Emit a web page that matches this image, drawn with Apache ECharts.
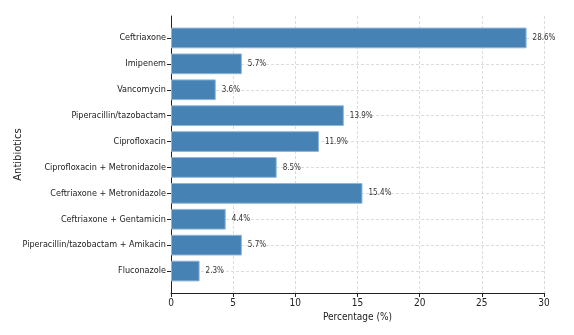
<!DOCTYPE html>
<html>
<head>
    <meta charset="utf-8">
    <title>Antibiotics usage</title>
    <script src="https://cdn.jsdelivr.net/npm/echarts@6/dist/echarts.min.js"></script>
    <style>
        html, body { margin: 0; padding: 0; background: #fff; }
        #chart { width: 574px; height: 335px; }
    </style>
</head>
<body>
<div id="chart"></div>
<script>
    var antibiotics = [
        'Ceftriaxone',
        'Imipenem',
        'Vancomycin',
        'Piperacillin/tazobactam',
        'Ciprofloxacin',
        'Ciprofloxacin + Metronidazole',
        'Ceftriaxone + Metronidazole',
        'Ceftriaxone + Gentamicin',
        'Piperacillin/tazobactam + Amikacin',
        'Fluconazole'
    ];
    var percentages = [28.6, 5.7, 3.6, 13.9, 11.9, 8.5, 15.4, 4.4, 5.7, 2.3];
    var xMin = 0, xMax = 30, xStep = 5;

    var narrow = '"DejaVu Sans Condensed", "DejaVu Sans", sans-serif';
    var gridColor = '#dcdcdc';
    var chart = echarts.init(document.getElementById('chart'));

    var option = {
        animation: false,
        // grid 0: bars, grid 1: frame + x axis, grid 2: horizontal grid lines at bar centres
        grid: [
            {left: 171, right: 30, top: 25, bottom: 51, outerBoundsMode: 'none'},
            {left: 171, right: 30, top: 16, bottom: 42, outerBoundsMode: 'none'},
            {left: 171, right: 30, top: 38, bottom: 64, outerBoundsMode: 'none'}
        ],
        xAxis: [
            {
                gridIndex: 0, type: 'value', min: xMin, max: xMax, interval: xStep,
                show: false
            },
            {
                gridIndex: 1, type: 'value', min: xMin, max: xMax, interval: xStep,
                name: 'Percentage (%)',
                nameLocation: 'middle',
                nameGap: 17,
                nameTextStyle: {fontFamily: narrow, fontSize: 10, color: '#222'},
                axisLine: {show: true, lineStyle: {color: '#222', width: 1}},
                axisTick: {show: true, length: 4, lineStyle: {color: '#222'}},
                axisLabel: {fontFamily: narrow, fontSize: 10, color: '#222', margin: 5},
                splitLine: {show: true, lineStyle: {color: gridColor, type: [3, 2]}}
            },
            {
                gridIndex: 2, type: 'value', min: xMin, max: xMax, show: false
            }
        ],
        yAxis: [
            {
                gridIndex: 0, type: 'category', data: antibiotics, inverse: true,
                axisLine: {show: false},
                axisTick: {show: true, alignWithLabel: true, length: 4, lineStyle: {color: '#222'}},
                axisLabel: {fontFamily: narrow, fontSize: 9, color: '#222', margin: 5},
                splitLine: {show: false}
            },
            {
                gridIndex: 1, type: 'value', min: 0, max: 1,
                name: 'Antibiotics',
                nameLocation: 'middle',
                nameRotate: 90,
                nameGap: 148,
                nameTextStyle: {fontFamily: 'DejaVu Sans', fontSize: 10, color: '#222'},
                axisLine: {show: true, lineStyle: {color: '#222', width: 1}},
                axisTick: {show: false},
                axisLabel: {show: false},
                splitLine: {show: false}
            },
            {
                gridIndex: 2, type: 'value', min: 0, max: antibiotics.length - 1, interval: 1,
                inverse: true,
                axisLine: {show: false},
                axisTick: {show: false},
                axisLabel: {show: false},
                splitLine: {show: true, lineStyle: {color: gridColor, type: [3, 2]}}
            }
        ],
        series: [
            {
                type: 'bar',
                xAxisIndex: 0,
                yAxisIndex: 0,
                data: percentages,
                barCategoryGap: '20%',
                itemStyle: {color: '#4682b4', borderColor: '#8fb6db', borderWidth: 1},
                label: {
                    show: true,
                    position: 'right',
                    distance: 6,
                    fontFamily: narrow,
                    fontSize: 8,
                    color: '#333',
                    formatter: function (p) { return p.value.toFixed(1) + '%'; }
                },
                z: 3
            }
        ]
    };
    chart.setOption(option);
</script>
</body>
</html>
